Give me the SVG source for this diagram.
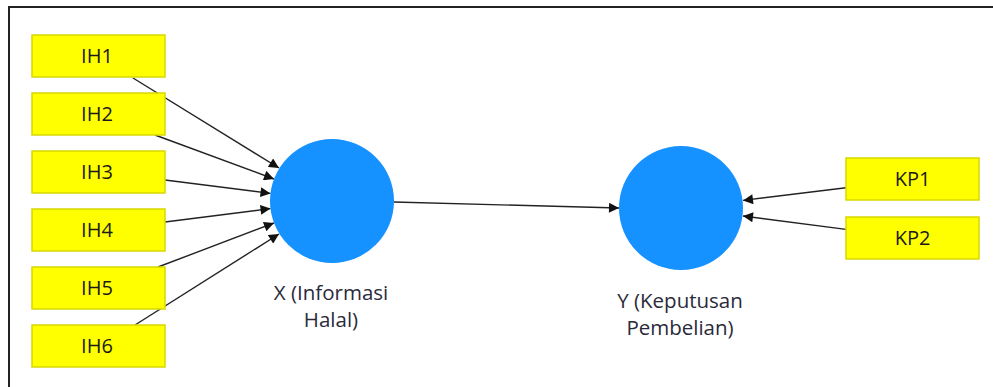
<svg xmlns="http://www.w3.org/2000/svg" width="993" height="387" viewBox="0 0 993 387">
<style>
.box{fill:#ffff00;stroke:#d8d800;stroke-width:1.5}
.lv{fill:#1592ff}
.t{font-family:"Open Sans","Noto Sans",sans-serif;font-size:20px;fill:#1a1a1a;text-anchor:middle}
.lb{font-family:"Open Sans","Noto Sans",sans-serif;font-size:20.5px;fill:#2a2a3a;text-anchor:middle}
.c{stroke:#222;stroke-width:1.4;fill:none;marker-end:url(#ah)}
</style>
<defs>
<marker id="ah" viewBox="0 0 10 10" refX="10" refY="5" markerWidth="11" markerHeight="10" markerUnits="userSpaceOnUse" orient="auto">
<path d="M0,0 L10,5 L0,10 z" fill="#111"/>
</marker>
</defs>
<rect width="993" height="387" fill="#fff"/>
<path d="M9,387 V7 H993" fill="none" stroke="#222" stroke-width="2"/>
<g id="connectors">
<line class="c" x1="133" y1="78" x2="279" y2="168"/>
<line class="c" x1="155" y1="135" x2="274" y2="179"/>
<line class="c" x1="165" y1="180" x2="270.5" y2="193.4"/>
<line class="c" x1="165" y1="222" x2="270.5" y2="208.6"/>
<line class="c" x1="158" y1="267" x2="274" y2="223"/>
<line class="c" x1="135" y1="325" x2="279" y2="234"/>
<line class="c" x1="394" y1="202" x2="619" y2="208"/>
<line class="c" x1="846" y1="187.7" x2="743" y2="200.4"/>
<line class="c" x1="846" y1="229.4" x2="743" y2="216"/>
</g>
<g id="IH1"><rect class="box" x="32" y="35" width="133" height="42"/><text class="t" x="97" y="63">IH1</text></g>
<g id="IH2"><rect class="box" x="32" y="93" width="133" height="42"/><text class="t" x="97" y="121">IH2</text></g>
<g id="IH3"><rect class="box" x="32" y="151" width="133" height="42"/><text class="t" x="97" y="179">IH3</text></g>
<g id="IH4"><rect class="box" x="32" y="209" width="133" height="42"/><text class="t" x="97" y="237">IH4</text></g>
<g id="IH5"><rect class="box" x="32" y="267" width="133" height="42"/><text class="t" x="97" y="295">IH5</text></g>
<g id="IH6"><rect class="box" x="32" y="325" width="133" height="42"/><text class="t" x="97" y="353">IH6</text></g>
<g id="X"><circle class="lv" cx="332" cy="201" r="62"/><text class="lb" x="331" y="300">X (Informasi<tspan x="331" dy="27">Halal)</tspan></text></g>
<g id="Y"><circle class="lv" cx="681" cy="208" r="62"/><text class="lb" x="680" y="308">Y (Keputusan<tspan x="680" dy="27">Pembelian)</tspan></text></g>
<g id="KP1"><rect class="box" x="846" y="158" width="133" height="42"/><text class="t" x="912.5" y="186">KP1</text></g>
<g id="KP2"><rect class="box" x="846" y="217" width="133" height="42"/><text class="t" x="912.5" y="245">KP2</text></g>
</svg>
